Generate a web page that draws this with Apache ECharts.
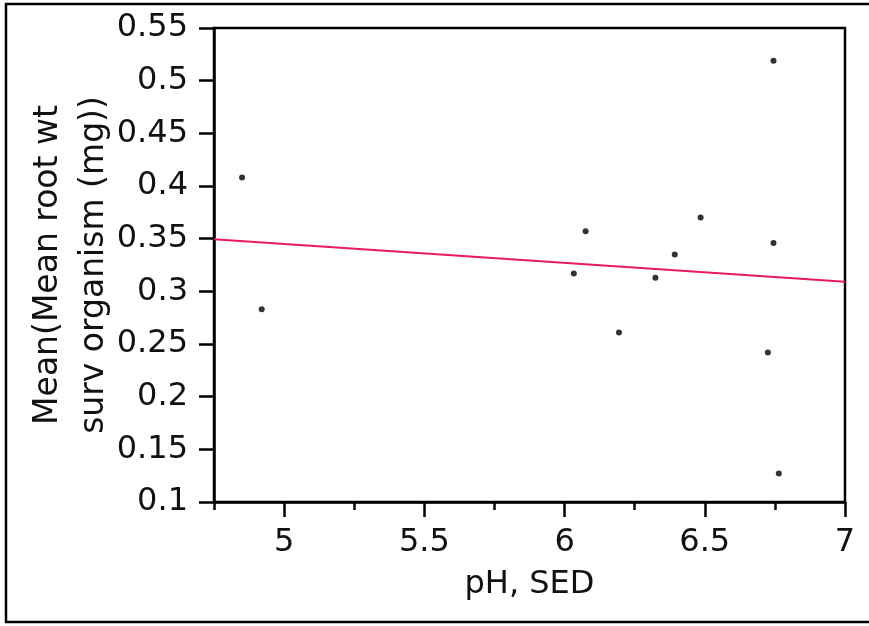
<!DOCTYPE html>
<html>
<head>
<meta charset="utf-8">
<script src="https://cdn.jsdelivr.net/npm/echarts@6/dist/echarts.min.js"></script>
<style>
html,body{margin:0;padding:0;background:#fff;}
#chart{width:869px;height:626px;}
</style>
</head>
<body>
<div id="chart"></div>
<script>
const phValues = [4.85, 4.92, 6.033, 6.075, 6.194, 6.324, 6.393, 6.485, 6.725, 6.745, 6.745, 6.764];
const rootWtValues = [0.408, 0.283, 0.317, 0.357, 0.261, 0.313, 0.335, 0.370, 0.242, 0.346, 0.519, 0.127];
const fitX = [4.75, 7];
const fitY = [0.3495, 0.309];
const xTicks = [5, 5.5, 6, 6.5, 7];
const xMinorTicks = [4.75, 5.25, 5.75, 6.25, 6.75];
const yTicks = [0.1, 0.15, 0.2, 0.25, 0.3, 0.35, 0.4, 0.45, 0.5, 0.55];
const xTitle = 'pH, SED';
const yTitle = 'Mean(Mean root wt\nsurv organism (mg))';

const font = 'DejaVu Sans';
const chart = echarts.init(document.getElementById('chart'), null, {renderer: 'canvas'});
chart.setOption({
  animation: false,
  backgroundColor: '#fff',
  graphic: [{
    type: 'rect', z: 100, silent: true,
    shape: {x: 6, y: 4, width: 870, height: 618},
    style: {fill: 'none', stroke: '#000', lineWidth: 2.5}
  }],
  grid: {left: 214, right: 24, top: 28, bottom: 124, show: true, borderColor: '#000', borderWidth: 2.5, backgroundColor: '#fff'},
  xAxis: [{
    type: 'value', min: 4.75, max: 7,
    name: xTitle, nameLocation: 'middle', nameGap: 67, nameMoveOverlap: false,
    nameTextStyle: {fontFamily: font, fontSize: 32, color: '#111'},
    axisLine: {show: true, onZero: false, lineStyle: {color: '#000', width: 2.5}},
    axisTick: {show: true, length: 15, customValues: xTicks, lineStyle: {color: '#000', width: 2.5}},
    axisLabel: {show: true, margin: 25, customValues: xTicks, fontFamily: font, fontSize: 32, color: '#111',
      formatter: v => String(v)},
    splitLine: {show: false}
  }, {
    type: 'value', min: 4.75, max: 7, position: 'bottom',
    axisLine: {show: false},
    axisTick: {show: true, length: 8, customValues: xMinorTicks, lineStyle: {color: '#000', width: 2.5}},
    axisLabel: {show: false},
    splitLine: {show: false}
  }],
  yAxis: {
    type: 'value', min: 0.1, max: 0.55,
    name: yTitle, nameLocation: 'middle', nameGap: 97, nameRotate: 90, nameMoveOverlap: false,
    nameTextStyle: {fontFamily: font, fontSize: 33, color: '#111', lineHeight: 46},
    axisLine: {show: true, onZero: false, lineStyle: {color: '#000', width: 2.5}},
    axisTick: {show: true, length: 15, customValues: yTicks, lineStyle: {color: '#000', width: 2.5}},
    axisLabel: {show: true, margin: 26, customValues: yTicks, fontFamily: font, fontSize: 32, color: '#111',
      formatter: v => String(Math.round(v * 100) / 100)},
    splitLine: {show: false}
  },
  series: [{
    type: 'line', xAxisIndex: 0,
    data: fitX.map((x, i) => [x, fitY[i]]),
    showSymbol: false, symbol: 'none',
    lineStyle: {color: '#e8195c', width: 2},
    z: 2
  }, {
    type: 'scatter', xAxisIndex: 0,
    data: phValues.map((x, i) => [x, rootWtValues[i]]),
    symbol: 'circle', symbolSize: 6,
    itemStyle: {color: '#000'},
    z: 3
  }]
});
</script>
</body>
</html>
